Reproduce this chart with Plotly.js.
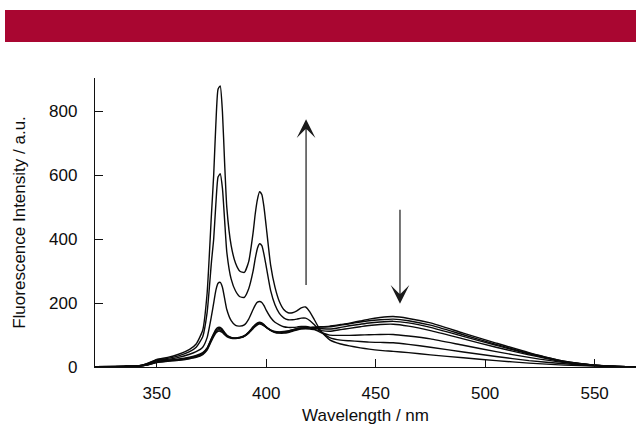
<!DOCTYPE html>
<html>
<head>
<meta charset="utf-8">
<script src="https://cdn.plot.ly/plotly-3.0.1.min.js"></script>
<style>
  html, body { margin: 0; padding: 0; background: #ffffff; }
  #chart { width: 636px; height: 428px; }
</style>
</head>
<body>
<div id="chart"></div>
<script>
// Wavelength grid (nm)
const wavelength = [322, 335, 342, 346, 350, 355, 360, 365, 368, 371, 373, 375, 376, 377, 378, 379, 380, 381, 382, 384, 386, 388, 390, 392, 394, 395, 396, 397, 398, 399, 400, 402, 404, 406, 408, 410, 412, 414, 416, 418, 420, 422, 425, 429, 434, 438, 443, 447, 452, 458, 465, 475, 490, 505, 520, 536, 550, 560, 569];

// Fluorescence intensity (a.u.) of each spectrum in the titration
const spectrum1 = [1, 2, 4, 12, 24, 30, 40, 55, 72, 115, 230, 480, 600, 760, 870, 880, 800, 640, 500, 380, 325, 300, 296, 330, 420, 480, 525, 549, 540, 500, 440, 320, 250, 205, 180, 170, 170, 176, 185, 188, 172, 148, 112, 85, 72, 66, 60, 56, 52, 49, 45, 38, 29, 20, 12, 6, 3, 1, 0];
const spectrum2 = [1, 2, 4, 11, 22, 27, 35, 48, 62, 95, 170, 330, 400, 510, 595, 605, 560, 460, 360, 275, 238, 220, 218, 245, 300, 340, 372, 386, 380, 352, 315, 240, 195, 168, 154, 148, 148, 150, 153, 153, 145, 132, 110, 92, 84, 82, 80, 78, 77, 76, 71, 62, 47, 33, 20, 10, 4, 2, 0];
const spectrum3 = [1, 2, 4, 10, 20, 24, 30, 40, 48, 62, 92, 160, 200, 240, 262, 265, 250, 215, 180, 145, 130, 128, 132, 150, 180, 194, 203, 205, 202, 192, 178, 155, 140, 132, 126, 124, 124, 125, 127, 127, 124, 118, 108, 100, 99, 99, 100, 101, 102, 102, 97, 88, 68, 48, 30, 14, 5, 2, 0];
const spectrum4 = [1, 2, 3, 8, 17, 21, 25, 31, 36, 45, 60, 90, 105, 118, 124, 124, 118, 108, 100, 93, 91, 93, 98, 110, 126, 133, 138, 140, 138, 133, 126, 115, 108, 106, 106, 108, 112, 116, 119, 120, 119, 117, 114, 112, 117, 121, 126, 130, 133, 134, 128, 114, 88, 62, 38, 16, 6, 2, 0];
const spectrum5 = [1, 2, 3, 8, 16, 20, 23, 29, 34, 43, 58, 88, 102, 114, 120, 120, 115, 106, 98, 92, 90, 92, 97, 108, 124, 131, 136, 138, 136, 131, 125, 115, 109, 107, 108, 110, 114, 118, 121, 122, 122, 121, 120, 119, 124, 129, 134, 138, 141, 143, 138, 124, 96, 68, 41, 17, 6, 2, 0];
const spectrum6 = [1, 2, 3, 7, 15, 19, 22, 27, 32, 41, 56, 85, 99, 110, 116, 116, 112, 104, 97, 91, 90, 92, 97, 107, 122, 129, 134, 136, 134, 130, 124, 115, 110, 109, 110, 112, 116, 120, 122, 123, 123, 124, 125, 126, 131, 135, 141, 145, 148, 150, 145, 131, 101, 71, 43, 18, 6, 2, 0];
const spectrum7 = [1, 2, 3, 7, 14, 18, 21, 26, 30, 39, 53, 82, 95, 106, 112, 112, 108, 101, 95, 90, 89, 91, 96, 106, 120, 127, 132, 135, 133, 129, 124, 116, 111, 110, 111, 113, 117, 120, 122, 123, 124, 125, 126, 128, 133, 137, 144, 150, 155, 158, 152, 138, 106, 75, 45, 18, 6, 2, 0];

const spectra = [spectrum1, spectrum2, spectrum3, spectrum4, spectrum5, spectrum6, spectrum7];

// Axis ticks
const xTickValues = [350, 400, 450, 500, 550];
const yTickValues = [0, 200, 400, 600, 800];

// Arrows: monomer rise and excimer decrease (tail -> tip)
const arrowUp = { x: 418.2, from: 252, to: 776 };
const arrowDown = { x: 461.1, from: 497, to: 198 };

const traces = spectra.map(function (s) {
  return {
    x: wavelength,
    y: s,
    type: 'scatter',
    mode: 'lines',
    line: { color: '#0a0a0a', width: 1.4, shape: 'spline', smoothing: 0.5 },
    hoverinfo: 'skip',
    showlegend: false
  };
});

const fontFamily = '"Liberation Sans", Arial, Helvetica, sans-serif';
const textColor = '#0d0d0d';

const layout = {
  width: 636,
  height: 428,
  margin: { l: 95, r: 0, t: 78, b: 61 },
  paper_bgcolor: '#ffffff',
  plot_bgcolor: '#ffffff',
  font: { family: fontFamily, size: 17, color: textColor },
  showlegend: false,
  xaxis: {
    range: [321.8, 568.9],
    tickvals: xTickValues,
    ticks: 'inside',
    ticklen: 8,
    tickwidth: 1,
    tickcolor: '#111',
    showline: true,
    linecolor: '#111',
    linewidth: 1.2,
    showgrid: false,
    zeroline: false,
    ticklabelstandoff: 10,
    tickfont: { family: fontFamily, size: 17, color: textColor },
    title: { text: 'Wavelength / nm', font: { family: fontFamily, size: 17, color: textColor }, standoff: 7 }
  },
  yaxis: {
    range: [0, 905],
    tickvals: yTickValues,
    ticks: 'inside',
    ticklen: 8,
    tickwidth: 1,
    tickcolor: '#111',
    showline: true,
    linecolor: '#111',
    linewidth: 1.2,
    showgrid: false,
    zeroline: false,
    ticklabelstandoff: 13,
    tickfont: { family: fontFamily, size: 17, color: textColor },
    title: { text: 'Fluorescence Intensity / a.u.', font: { family: fontFamily, size: 17, color: textColor }, standoff: 19 }
  },
  shapes: [
    {
      type: 'rect', xref: 'paper', yref: 'paper',
      x0: (5 - 95) / 541, x1: 1.0,
      y0: (367 - 42) / 289, y1: (367 - 10) / 289,
      fillcolor: '#a90631', line: { width: 0 }, layer: 'above'
    }
  ],
  annotations: [
    {
      x: arrowUp.x, y: arrowUp.to, ax: arrowUp.x, ay: arrowUp.from,
      xref: 'x', yref: 'y', axref: 'x', ayref: 'y',
      text: '', showarrow: true, arrowhead: 3, arrowsize: 2.6, arrowwidth: 1.2,
      arrowcolor: '#1a1a1a', standoff: 0
    },
    {
      x: arrowDown.x, y: arrowDown.to, ax: arrowDown.x, ay: arrowDown.from,
      xref: 'x', yref: 'y', axref: 'x', ayref: 'y',
      text: '', showarrow: true, arrowhead: 3, arrowsize: 2.6, arrowwidth: 1.2,
      arrowcolor: '#1a1a1a', standoff: 0
    }
  ]
};

Plotly.newPlot('chart', traces, layout, { staticPlot: true, displayModeBar: false });
</script>
</body>
</html>
